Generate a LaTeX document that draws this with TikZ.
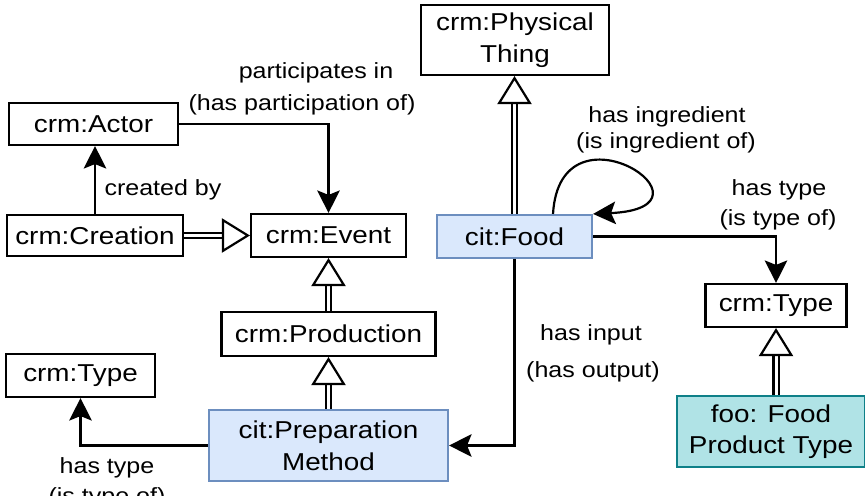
\documentclass[tikz,border=0pt]{standalone}
\usepackage{fontspec}
\setmainfont{Liberation Sans}[FakeStretch=1.14]
\usepackage{tikz}
\usetikzlibrary{arrows.meta, shapes, calc}
\definecolor{citfill}{HTML}{DAE8FC}
\definecolor{citdraw}{HTML}{6C8EBF}
\definecolor{foofill}{HTML}{B0E3E6}
\definecolor{foodraw}{HTML}{0E8088}
\tikzset{
	every node/.style={
		font=\fontsize{12.5}{16}\selectfont
	},
	entity/.style={
		shape=rectangle,
		draw,
		line width=1.2pt,
		inner sep=0pt,
		align=center,
		font=\fontsize{13.9}{18}\selectfont
	},
	citentity/.style={
		entity,
		fill=citfill,
		draw=citdraw
	},
	fooentity/.style={
		entity,
		fill=foofill,
		draw=foodraw
	},
	myarrow/.style={
		-{Stealth[length=0.45cm, width=0.45cm, inset=0.09cm]},
		line width=1.25pt
	},
	subclass/.style={
		draw=white,
		line width=1pt,
		-{Triangle[color=black, fill=white, line width=1.25pt, length=0.56cm, width=0.68cm]},
		preaction={draw=black, double=white, double distance=1.7pt, line width=1.25pt, shorten >=0.5cm, -}
	},
}

\begin{document}
\begin{tikzpicture}
	
	\useasboundingbox (0,0) rectangle (17.3,9.9);
	
	% classes
	\node[entity, minimum width=3.76cm, minimum height=1.40cm] (phys) at (10.30,9.10) {crm:Physical\\Thing};
	\node[entity, minimum width=3.38cm, minimum height=0.84cm] (actor) at (1.87,7.42) {crm:Actor};
	\node[entity, minimum width=3.52cm, minimum height=0.82cm] (creation) at (1.90,5.19) {crm:Creation};
	\node[entity, minimum width=3.10cm, minimum height=0.86cm] (event) at (6.57,5.19) {crm:Event};
	\node[entity, minimum width=4.28cm, minimum height=0.88cm] (production) at (6.57,3.22) {crm:Production};
	\node[entity, minimum width=2.98cm, minimum height=0.86cm] (typeL) at (1.61,2.39) {crm:Type};
	\node[citentity, minimum width=4.78cm, minimum height=1.42cm] (prep) at (6.57,0.99) {cit:Preparation\\Method};
	\node[citentity, minimum width=3.10cm, minimum height=0.86cm] (food) at (10.29,5.17) {cit:Food};
	\node[entity, minimum width=2.82cm, minimum height=0.86cm] (typeR) at (15.52,3.79) {crm:Type};
	\node[fooentity, minimum width=3.76cm, minimum height=1.42cm] (fpt) at (15.42,1.27) {foo: Food\\Product Type};
	
	% labels
	\node (part1) at (6.32,8.44) {participates in};
	\node (part2) at (6.04,7.80) {(has participation of)};
	\node (created) at (3.26,6.10) {created by};
	\node (ingr1) at (13.34,7.56) {has ingredient};
	\node (ingr2) at (13.32,7.04) {(is ingredient of)};
	\node (typeR1) at (15.58,6.10) {has type};
	\node (typeR2) at (15.56,5.50) {(is type of)};
	\node (input1) at (11.82,3.20) {has input};
	\node (input2) at (11.86,2.46) {(has output)};
	\node (typeL1) at (2.14,0.54) {has type};
	\node (typeL2) at (2.14,-0.06) {(is type of)};
	
	% relations
	\draw[myarrow] (actor.east) -| (event.north);
	\draw[myarrow] (creation.north) -- (creation.north |- actor.south);
	\draw[myarrow] (food.east) -| (typeR.north);
	\draw[myarrow] (food.south) |- (prep.east);
	\draw[myarrow] (prep.west) -| (typeL.south);
	\draw[myarrow] ($(food.north)+(0.77,0)$) .. controls (11.2,8.0) and (14.6,5.75) .. (food.north east);
	
	% subclass of
	\draw[subclass] (creation.east) -- (event.west);
	\draw[subclass] (production.north) -- (event.south);
	\draw[subclass] (prep.north) -- (production.south);
	\draw[subclass] (food.north) -- (food.north |- phys.south);
	\draw[subclass] (typeR.south |- fpt.north) -- (typeR.south);
	
\end{tikzpicture}
\end{document}
